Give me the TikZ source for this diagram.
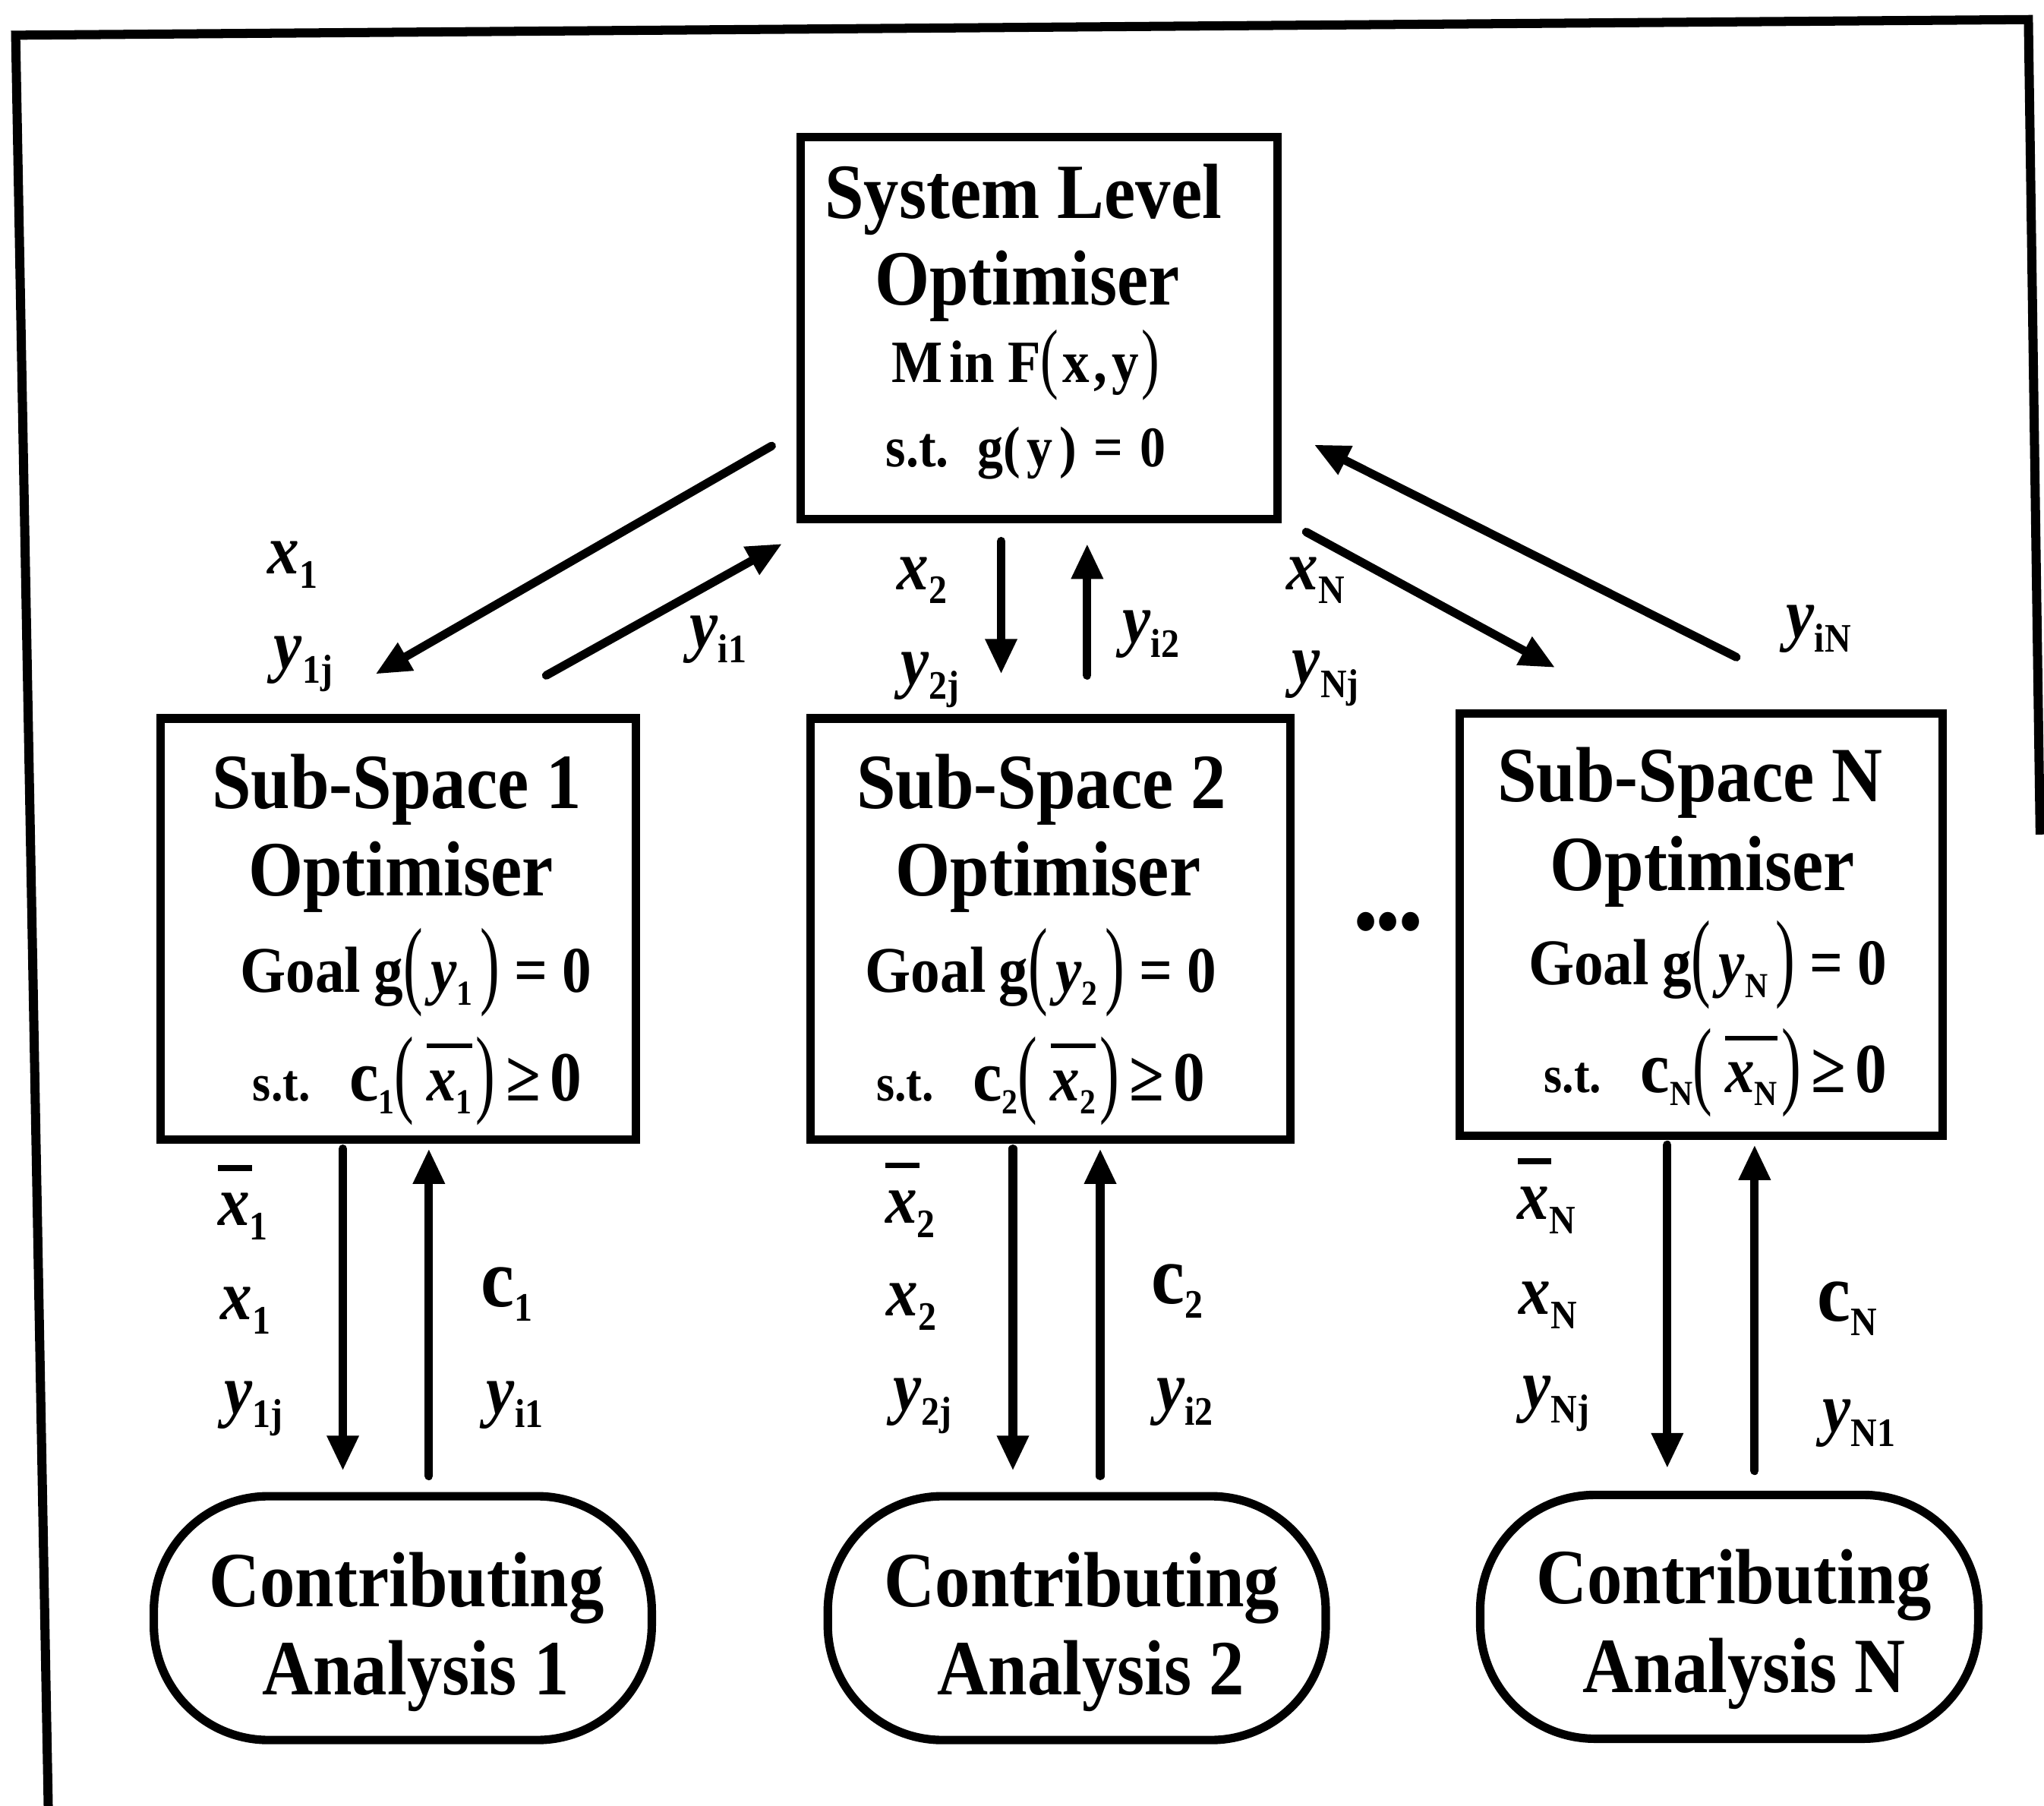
\documentclass[tikz,border=0pt]{standalone}
\usepackage{fontspec}
\usepackage{graphicx}
\setmainfont{Liberation Serif}[FakeStretch=0.9]
\usetikzlibrary{arrows.meta}

\newcommand\ttl{\fontsize{60}{60}\selectfont\bfseries}
\newcommand\frm[1]{\fontsize{#1}{#1}\selectfont\bfseries}
\newcommand\lbl{\fontsize{54}{54}\selectfont\bfseries}
\newcommand\fs[1]{\raisebox{-10pt}{\fontsize{27}{27}\selectfont #1}}
\newcommand\ls[1]{\raisebox{-11pt}{\fontsize{31}{31}\selectfont #1}}
\newcommand\lpar[2]{\raisebox{#2}{\scalebox{1}[#1]{\mdseries(}}}
\newcommand\rpar[2]{\raisebox{#2}{\scalebox{1}[#1]{\mdseries)}}}
\newcommand\xbl{\rlap{\rule[42pt]{26pt}{4.5pt}}\textit{x}}
\newcommand\xbf[1]{\setbox0=\hbox{\textit{x}\fs{#1}}\rlap{\rule[40pt]{\wd0}{3.5pt}}\box0}
\newcommand\bigc{{\fontsize{64}{64}\selectfont c}}
\newcommand\goal[1]{Goal\hspace{10pt}g\lpar{1.5}{-3pt}\hspace{6pt}\textit{y}\fs{#1}\hspace{6pt}\rpar{1.5}{-3pt}\hspace{11pt}=\hspace{11pt}0}
\newcommand\cons[1]{{\fontsize{40}{40}\selectfont s.t.}\hspace{30pt}{\fontsize{56}{56}\selectfont c}\fs{#1}\lpar{1.5}{-3pt}\hspace{10pt}\xbf{#1}\hspace{3pt}\rpar{1.5}{-3pt}\hspace{8pt}{\fontsize{54}{54}\selectfont ≥\hspace{7pt}0}}

\begin{document}
\begin{tikzpicture}[x=1pt,y=-1pt,
  bx/.style={draw, line width=6.5pt, inner sep=0pt},
  ca/.style={draw, line width=6.5pt, inner sep=0pt, minimum width=382pt, minimum height=187pt, rounded corners=88pt},
  arr/.style={line width=6.5pt, line cap=round, -{Triangle[length=27pt,width=23pt]}},
  tx/.style={inner sep=0pt, anchor=base},
  lb/.style={inner sep=0pt, anchor=base west, font=\lbl}]
\useasboundingbox (0,0) rectangle (1568,1385);

% frame
\draw[line width=7pt] (37,1385) -- (12,27) -- (1556,15) -- (1565,640);

% boxes
\node[bx, minimum width=366pt, minimum height=293pt] (sys) at (797,251.5) {};
\node[bx, minimum width=365pt, minimum height=323pt] (ss1) at (305.5,712.5) {};
\node[bx, minimum width=368pt, minimum height=323pt] (ss2) at (806,712.5) {};
\node[bx, minimum width=370pt, minimum height=324pt] (ssn) at (1305,709) {};
\node[ca] (ca1) at (309,1241) {};
\node[ca] (ca2) at (826,1241) {};
\node[ca] (can) at (1326.5,1240) {};

% system text
\node[tx, font=\ttl] (sysa) at (785,167.5) {System Level};
\node[tx, font=\ttl] (sysb) at (788,234) {Optimiser};
\node[tx, font={\frm{46}}] (sysc) at (787,293) {M\hspace{5pt}in F\lpar{1.3}{-1.5pt}\hspace{3pt}x\hspace{3pt},\hspace{4pt}y\hspace{2pt}\rpar{1.3}{-1.5pt}};
\node[tx, font={\frm{44}}] (sysd) at (787,358) {s.t.\hspace{22pt}g(\hspace{5pt}y\hspace{5pt})\hspace{13pt}=\hspace{13pt}0};

% sub-space 1
\node[tx,font=\ttl] (s1a) at (304.5,620) {Sub-Space 1};
\node[tx,font=\ttl] (s1b) at (307.5,687) {Optimiser};
\node[tx,font={\frm{50}}] (s1c) at (319,761) {\goal{1}};
\node[tx,font={\frm{50}}] (s1d) at (320,844) {\cons{1}};

% sub-space 2
\node[tx,font=\ttl] (s2a) at (799,620) {Sub-Space 2};
\node[tx,font=\ttl] (s2b) at (804,687) {Optimiser};
\node[tx,font={\frm{50}}] (s2c) at (798.5,761) {\goal{2}};
\node[tx,font={\frm{50}}] (s2d) at (798.5,844) {\cons{2}};

% sub-space N
\node[tx,font=\ttl] (sna) at (1296.5,615) {Sub-Space N};
\node[tx,font=\ttl] (snb) at (1306,683) {Optimiser};
\node[tx,font={\frm{50}}] (snc) at (1310,755) {\goal{N}};
\node[tx,font={\frm{50}}] (snd) at (1316,838) {\cons{N}};

\node[inner sep=0pt, font={\fontsize{54}{54}\selectfont\bfseries}] (dots) at (1065,712) {\textbullet\textbullet\textbullet};

% contributing analyses
\node[tx,font=\ttl] (c1a) at (312,1232) {Contributing};
\node[tx,font=\ttl] (c1b) at (319,1300) {Analysis 1};
\node[tx,font=\ttl] (c2a) at (830,1232) {Contributing};
\node[tx,font=\ttl] (c2b) at (837,1300) {Analysis 2};
\node[tx,font=\ttl] (cna) at (1330,1230) {Contributing};
\node[tx,font=\ttl] (cnb) at (1338,1298) {Analysis N};

% upper labels
\node[lb] (ux1) at (205,440) {\textit{x}\ls{1}};
\node[lb] (uy1j) at (210,513) {\textit{y}\ls{1j}};
\node[lb] (uyi1) at (529,497) {\textit{y}\ls{i1}};
\node[lb] (ux2) at (688,452) {\textit{x}\ls{2}};
\node[lb] (uy2j) at (691,525) {\textit{y}\ls{2j}};
\node[lb] (uyi2) at (861,493) {\textit{y}\ls{i2}};
\node[lb] (uxn) at (987,452) {\textit{x}\ls{N}};
\node[lb] (uynj) at (991,524) {\textit{y}\ls{Nj}};
\node[lb] (uyin) at (1370,489) {\textit{y}\ls{iN}};

% lower labels
\node[lb] (lxb1) at (167,940) {\xbl\ls{1}};
\node[lb] (lx1) at (169,1012) {\textit{x}\ls{1}};
\node[lb] (ly1j) at (172,1084) {\textit{y}\ls{1j}};
\node[lb] (lc1) at (369,1002) {\bigc\ls{1}};
\node[lb] (lyi1) at (373,1084) {\textit{y}\ls{i1}};
\node[lb] (lxb2) at (679,938) {\xbl\ls{2}};
\node[lb] (lx2) at (680,1009) {\textit{x}\ls{2}};
\node[lb] (ly2j) at (685,1082) {\textit{y}\ls{2j}};
\node[lb] (lc2) at (883,1000) {\bigc\ls{2}};
\node[lb] (lyi2) at (887,1082) {\textit{y}\ls{i2}};
\node[lb] (lxbn) at (1164,935) {\xbl\ls{N}};
\node[lb] (lxn) at (1165,1008) {\textit{x}\ls{N}};
\node[lb] (lynj) at (1168,1080) {\textit{y}\ls{Nj}};
\node[lb] (lcn) at (1394,1013) {\bigc\ls{N}};
\node[lb] (lyn1) at (1398,1098) {\textit{y}\ls{N1}};

% connector end points
\coordinate (a1s) at (592,342);  \coordinate (a1e) at (288,517);
\coordinate (a2s) at (419,518);  \coordinate (a2e) at (600,417);
\coordinate (a3s) at (768,415);  \coordinate (a3e) at (768,517);
\coordinate (a4s) at (834,518);  \coordinate (a4e) at (834,417);
\coordinate (a5s) at (1002,408); \coordinate (a5e) at (1193,512);
\coordinate (a6s) at (1332,504); \coordinate (a6e) at (1008,341);
\coordinate (b1s) at (263,881);  \coordinate (b1e) at (263,1128);
\coordinate (b2s) at (329,1132); \coordinate (b2e) at (329,881);
\coordinate (b3s) at (777,881);  \coordinate (b3e) at (777,1128);
\coordinate (b4s) at (844,1132); \coordinate (b4e) at (844,881);
\coordinate (b5s) at (1279,878); \coordinate (b5e) at (1279,1126);
\coordinate (b6s) at (1346,1128);\coordinate (b6e) at (1346,878);

\draw[arr] (a1s) -- (a1e);
\draw[arr] (a2s) -- (a2e);
\draw[arr] (a3s) -- (a3e);
\draw[arr] (a4s) -- (a4e);
\draw[arr] (a5s) -- (a5e);
\draw[arr] (a6s) -- (a6e);
\draw[arr] (b1s) -- (b1e);
\draw[arr] (b2s) -- (b2e);
\draw[arr] (b3s) -- (b3e);
\draw[arr] (b4s) -- (b4e);
\draw[arr] (b5s) -- (b5e);
\draw[arr] (b6s) -- (b6e);
\end{tikzpicture}
\end{document}
